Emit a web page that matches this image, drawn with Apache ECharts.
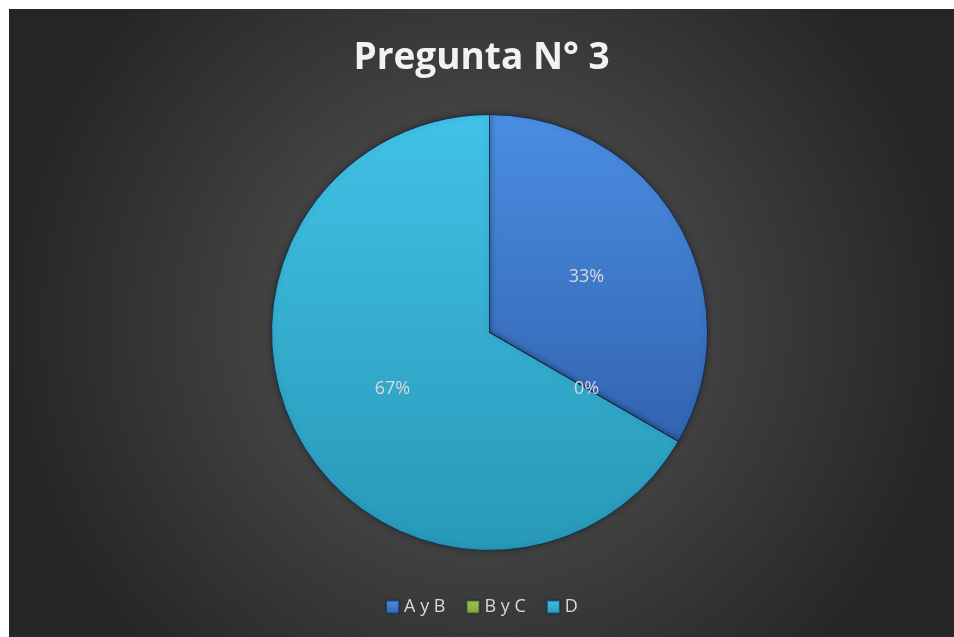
<!DOCTYPE html>
<html>
<head>
<meta charset="utf-8">
<script src="https://cdn.jsdelivr.net/npm/echarts@6/dist/echarts.min.js"></script>
<style>
  html, body { margin: 0; padding: 0; background: #ffffff; }
  #chart { position: absolute; left: 9px; top: 9px; width: 945px; height: 628px; }
</style>
</head>
<body>
<div id="chart"></div>
<script>
  // data
  const categories = ['A y B', 'B y C', 'D']
  const values = [1, 0, 2]
  const topColors = ['#4b8ee2', '#a4c64a', '#41c2e6']
  const bottomColors = ['#3264b0', '#84a333', '#2898b8']

  const chart = echarts.init(document.getElementById('chart'))

  const grad = (i) => new echarts.graphic.LinearGradient(0, 0, 0, 1, [
    { offset: 0, color: topColors[i] },
    { offset: 1, color: bottomColors[i] }
  ])

  chart.setOption({
    backgroundColor: new echarts.graphic.RadialGradient(0.5, 0.5, 0.75, [
      { offset: 0, color: '#595959' },
      { offset: 1, color: '#262626' }
    ]),
    title: {
      text: 'Pregunta N° 3',
      left: 'center',
      top: 26,
      textStyle: {
        color: '#f2f2f2',
        fontFamily: 'Open Sans',
        fontWeight: 'bold',
        fontSize: 37
      }
    },
    legend: {
      top: 584,
      left: 'center',
      icon: 'rect',
      itemWidth: 13,
      itemHeight: 13,
      itemGap: 20,
      textStyle: { color: '#d9d9d9', fontFamily: 'Open Sans', fontSize: 18 },
      data: categories.map((name, i) => ({ name, itemStyle: { color: grad(i) } }))
    },
    series: [{
      type: 'pie',
      center: [480.5, 323.5],
      radius: 218,
      startAngle: 90,
      clockwise: true,
      stillShowZeroSum: true,
      minShowLabelAngle: 0,
      label: {
        show: true,
        position: 'inside',
        formatter: (p) => Math.round(p.percent) + '%',
        color: '#d9d9d9',
        fontFamily: 'Open Sans',
        fontSize: 18
      },
      labelLine: { show: false },
      itemStyle: {
        borderColor: 'rgba(20,40,70,0.6)',
        borderWidth: 1,
        shadowColor: 'rgba(0,0,0,0.35)',
        shadowBlur: 6
      },
      emphasis: { disabled: true },
      data: categories.map((name, i) => ({
        name,
        value: values[i],
        itemStyle: { color: grad(i) }
      }))
    }]
  })
</script>
</body>
</html>
